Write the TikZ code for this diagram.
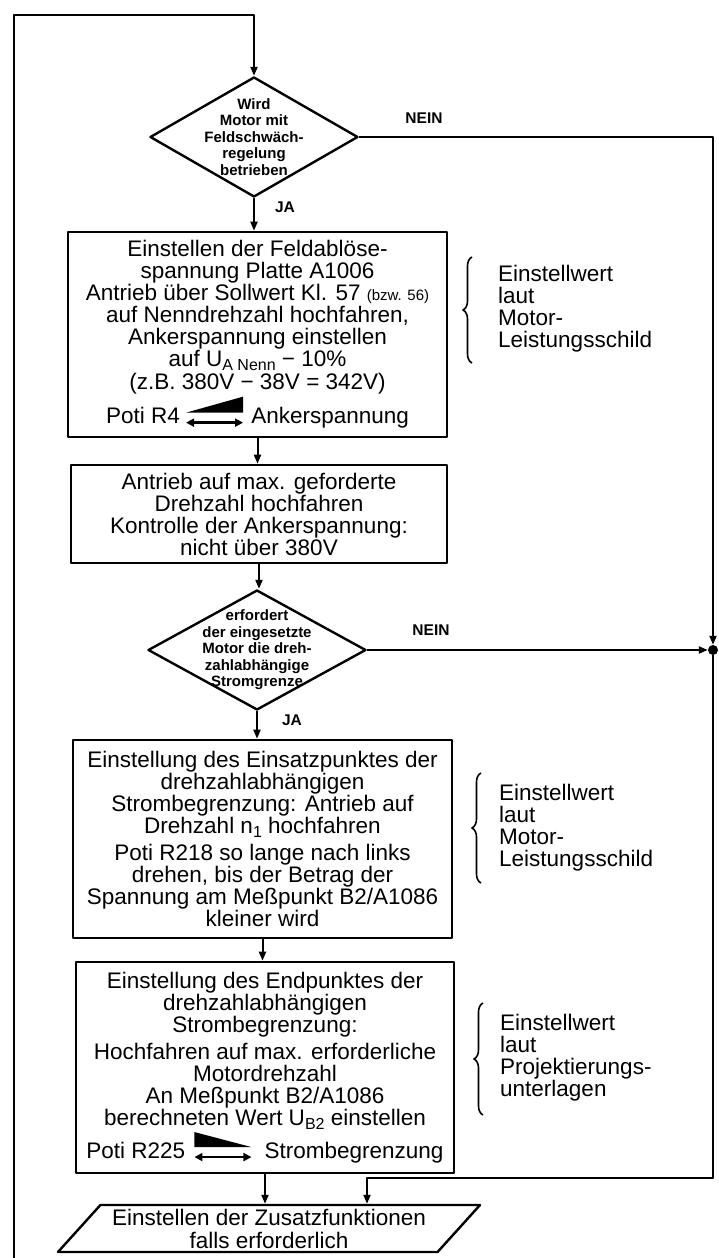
\documentclass[tikz,border=0pt]{standalone}
\usepackage{fontspec}
\setmainfont{Liberation Sans}
\usepackage{tikz}
\usetikzlibrary{arrows.meta}
\usetikzlibrary{decorations.pathreplacing}
\usetikzlibrary{shapes.geometric}
% Poti-Symbole (Keil mit Doppelpfeil)
\newcommand{\potiauf}{\tikz[baseline=0pt,x=1pt,y=1pt]{\fill (0,11) -- (57,27) -- (57,11) -- cycle;
	\draw[line width=2.4pt,{Triangle[length=8pt,width=8pt]}-{Triangle[length=8pt,width=8pt]}] (0,1) -- (57,1);}}
\newcommand{\potiab}{\tikz[baseline=0pt,x=1pt,y=1pt]{\fill (0,11) -- (0,26) -- (57,11) -- cycle;
	\draw[line width=2.4pt,{Triangle[length=8pt,width=8pt]}-{Triangle[length=8pt,width=8pt]}] (0,1) -- (57,1);}}
\newcommand{\tief}[1]{\raisebox{-3.5pt}{\fontsize{16}{16}\selectfont #1}}

\begin{document}
\begin{tikzpicture}[x=1pt,y=-1pt,line join=round]
	\tikzstyle{flow}=[draw,line width=2pt,-{Triangle[length=9pt,width=7pt]}]
	\tikzstyle{box}=[draw,rectangle,line width=2.6pt,inner sep=0pt,align=center,font=\fontsize{22.5}{22}\selectfont]
	\tikzstyle{decision}=[draw,diamond,line width=2.4pt,inner sep=0pt,minimum width=208pt,minimum height=120pt]
	\tikzstyle{qtext}=[align=center,inner sep=0pt,font=\bfseries\fontsize{15}{16.5}\selectfont]
	\tikzstyle{yesno}=[inner sep=0pt,font=\bfseries\fontsize{15.5}{15.5}\selectfont]
	\tikzstyle{note}=[anchor=west,align=left,inner sep=0pt,font=\fontsize{22.5}{22}\selectfont]
	\tikzstyle{klammer}=[decorate,decoration={brace,amplitude=9pt},line width=1.6pt]
	\tikzstyle{io}=[draw,trapezium,trapezium left angle=45,trapezium right angle=135,trapezium stretches=true,
		minimum width=424pt,minimum height=47pt,line width=2.4pt,inner sep=0pt,align=center,font=\fontsize{22.5}{23}\selectfont]

	\useasboundingbox (0,0) rectangle (718,1258);

	% Entscheidungen
	\node[decision] (d1) at (254,137) {};
	\node[qtext] (q1) at (d1) {Wird\\Motor mit\\Feldschwäch-\\regelung\\betrieben};
	\node[decision,minimum width=218pt] (d2) at (257,650) {};
	\node[qtext] (q2) at (d2) {erfordert\\der eingesetzte\\Motor die dreh-\\zahlabhängige\\Stromgrenze};

	% Arbeitsschritte
	\node[box,minimum width=379pt,minimum height=205pt] (box1) at (257.5,334.5)
	{Einstellen der Feldablöse-\\spannung Platte A1006\\Antrieb über Sollwert Kl. 57 {\fontsize{15}{15}\selectfont(bzw. 56)}\\auf Nenndrehzahl hochfahren,\\Ankerspannung einstellen\\auf U\tief{A Nenn} − 10\%\\[1pt](z.B. 380V − 38V = 342V)\\[1pt]Poti R4\hspace{5pt}\potiauf\hspace{7pt}Ankerspannung};
	\node[box,minimum width=376pt,minimum height=98pt] (box2) at (259,514)
	{Antrieb auf max. geforderte\\Drehzahl hochfahren\\Kontrolle der Ankerspannung:\\nicht über 380V};
	\node[box,minimum width=379pt,minimum height=198pt] (box3) at (262.5,839)
	{Einstellung des Einsatzpunktes der\\drehzahlabhängigen\\Strombegrenzung: Antrieb auf\\Drehzahl n\tief{1} hochfahren\\[5pt]Poti R218 so lange nach links\\drehen, bis der Betrag der\\Spannung am Meßpunkt B2/A1086\\kleiner wird};
	\node[box,minimum width=378pt,minimum height=211pt] (box4) at (265,1067.5)
	{Einstellung des Endpunktes der\\drehzahlabhängigen\\Strombegrenzung:\\[5pt]Hochfahren auf max. erforderliche\\Motordrehzahl\\An Meßpunkt B2/A1086\\berechneten Wert U\tief{B2} einstellen\\[2pt]Poti R225\hspace{8pt}\potiab\hspace{12pt}Strombegrenzung};
	\node[io] (zusatz) at (269,1228.5) {Einstellen der Zusatzfunktionen\\falls erforderlich};

	% Sammelpunkt rechts
	\node[circle,fill,inner sep=0pt,minimum size=10pt] (knoten) at (713,650) {};

	% Hilfspunkte fuer die Linienfuehrung
	\coordinate (rueck) at (14,1258);
	\coordinate (oben) at (14,15);
	\coordinate (ecke) at (367,1178);

	% Verbindungen von oben nach unten
	\foreach \von/\nach in {d1/box1,box1/box2,box2/d2,d2/box3,box3/box4,box4/zusatz}
	\draw[flow] (\von.south) -- (\von.south |- \nach.north);

	% Ruecksprung und NEIN-Zweige
	\draw[flow] (rueck) -- (oben) -| (d1.north);
	\draw[flow] (d1.east) -| (knoten.north);
	\draw[flow] (d2.east) -- (knoten.west);
	\draw[flow] (knoten.south) |- (ecke) -- (ecke |- zusatz.north);

	% Beschriftung der Zweige
	\node[yesno] (ja1) at (285,207) {JA};
	\node[yesno] (nein1) at (424,118) {NEIN};
	\node[yesno] (ja2) at (292,720) {JA};
	\node[yesno] (nein2) at (431,630) {NEIN};

	% Einstellwerte
	\draw[klammer] (472,363) -- (472,257);
	\node[note] (wert1) at (498,309) {Einstellwert\\laut\\Motor-\\Leistungsschild};
	\draw[klammer] (481,883) -- (481,773);
	\node[note] (wert2) at (499,828) {Einstellwert\\laut\\Motor-\\Leistungsschild};
	\draw[klammer] (483,1115) -- (483,1003);
	\node[note] (wert3) at (500,1058) {Einstellwert\\laut\\Projektierungs-\\unterlagen};
\end{tikzpicture}
\end{document}
